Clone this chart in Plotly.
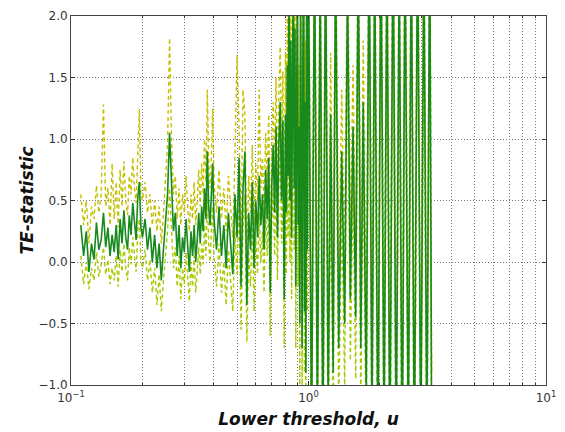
import plotly.graph_objects as go

# Lower threshold values u
x_u = [
    0.110, 0.113, 0.116, 0.119, 0.122, 0.125, 0.128, 0.131, 0.134, 0.137,
    0.140, 0.143, 0.146, 0.149, 0.152, 0.155, 0.158, 0.161, 0.164, 0.167,
    0.170, 0.173, 0.176, 0.179, 0.182, 0.185, 0.188, 0.191, 0.194, 0.197,
    0.200, 0.205, 0.210, 0.215, 0.220, 0.225, 0.230, 0.235, 0.240, 0.245,
    0.250, 0.255, 0.260, 0.265, 0.270, 0.275, 0.280, 0.285, 0.290, 0.295,
    0.300, 0.305, 0.310, 0.315, 0.320, 0.325, 0.330, 0.335, 0.340, 0.345,
    0.350, 0.355, 0.360, 0.365, 0.370, 0.375, 0.380, 0.385, 0.390, 0.395,
    0.40, 0.41, 0.42, 0.43, 0.44, 0.45, 0.46, 0.47, 0.48, 0.49,
    0.50, 0.51, 0.52, 0.53, 0.54, 0.55, 0.56, 0.57, 0.58, 0.59,
    0.60, 0.61, 0.62, 0.63, 0.64, 0.65, 0.66, 0.67, 0.68, 0.69,
    0.70, 0.71, 0.72, 0.73, 0.74, 0.75, 0.76, 0.77, 0.78, 0.79,
    0.800, 0.807, 0.814, 0.821, 0.828, 0.835, 0.842, 0.849, 0.856, 0.863,
    0.870, 0.877, 0.884, 0.891, 0.898, 0.905, 0.912, 0.919, 0.926, 0.933,
    0.940, 0.947, 0.954, 0.961, 0.968, 0.975, 0.982, 0.989,
    1.00, 1.03, 1.06, 1.09, 1.12, 1.15, 1.18, 1.21, 1.24, 1.27,
    1.30, 1.34, 1.38, 1.42, 1.46, 1.50, 1.54, 1.58, 1.62, 1.66,
    1.70, 1.75, 1.80, 1.85, 1.90, 1.96, 2.02, 2.08, 2.14, 2.20,
    2.27, 2.34, 2.41, 2.48, 2.55, 2.63, 2.71, 2.79, 2.88, 2.97,
    3.06, 3.15, 3.24, 3.30,
]

# TE-statistic estimate (solid green)
te_stat = [
    0.30, 0.05, 0.25, -0.08, 0.15, 0.02, 0.32, 0.10, 0.18, 0.40,
    0.12, 0.28, 0.05, 0.22, 0.08, 0.30, 0.02, 0.35, 0.15, 0.42,
    0.20, 0.10, 0.38, 0.22, 0.48, 0.30, 0.18, 0.52, 0.65, 0.28,
    0.20, 0.35, 0.10, 0.28, 0.00, 0.22, -0.05, 0.15, -0.15, 0.10,
    0.30, 0.55, 1.05, 0.60, 0.25, 0.40, 0.05, 0.30, -0.05, 0.20,
    0.08, 0.35, 0.12, -0.08, 0.25, 0.05, 0.30, 0.00, 0.18, 0.40,
    0.15, 0.45, 0.25, 0.60, 0.35, 0.90, 0.45, 0.30, 0.55, 0.80,
    0.35, 0.10, 0.45, 0.05, 0.30, -0.05, 0.40, 0.15, -0.10, 0.55,
    0.20, 0.85, -0.20, 0.60, 0.90, -0.35, 0.40, 0.10, 0.65, -0.05,
    0.50, 0.20, 0.70, 0.30, 0.55, 0.10, 0.75, 0.35, 0.85, -0.25,
    0.60, 0.95, 0.40, 1.10, 0.20, 0.95, 1.30, 0.50, 1.15, -0.30,
    1.20, 0.40, 1.60, 0.70, 2.30, 0.50, 1.80, 0.20, 1.40, 2.50,
    0.60, 1.90, -0.20, 1.50, 2.40, 0.30, 1.10, -0.50, 2.20, 0.80,
    -0.70, 1.70, 2.60, -0.40, 1.30, -0.90, 2.40, 0.10,
    2.50, -1.50, 2.60, -1.30, 2.40, -1.60, 2.70, -1.20, 1.20, -0.90,
    2.50, -0.70, 0.90, -0.50, 2.30, -0.30, 1.10, -0.45, 2.60, -0.70,
    1.30, -1.10, 2.80, -1.40, 2.50, -1.60, 2.70, -1.50, 2.60, -1.70,
    2.80, -1.60, 2.50, -1.80, 2.70, -1.50, 2.60, -1.70, 2.80, -1.60,
    2.60, -1.50, 2.70, -1.40,
]

# Upper confidence bound (dashed yellow)
ci_upper = [
    0.55, 0.30, 0.50, 0.15, 0.45, 0.35, 0.62, 0.40, 0.55, 1.28,
    0.45, 0.60, 0.30, 0.80, 0.35, 0.65, 0.28, 0.75, 0.45, 0.82,
    0.50, 0.38, 0.70, 0.55, 0.85, 0.60, 0.48, 0.80, 1.24, 0.55,
    0.50, 0.65, 0.40, 0.55, 0.30, 0.50, 0.25, 0.45, 0.15, 0.40,
    0.65, 0.95, 1.82, 1.00, 0.55, 0.70, 0.35, 0.60, 0.30, 0.55,
    0.40, 0.70, 0.45, 0.25, 0.55, 0.35, 0.65, 0.30, 0.50, 0.75,
    0.45, 0.80, 0.55, 1.00, 0.65, 1.40, 0.80, 0.60, 0.85, 1.25,
    0.65, 0.40, 0.75, 0.35, 0.60, 0.25, 0.70, 0.45, 0.20, 0.85,
    1.68, 1.10, 0.15, 1.40, 1.20, 0.05, 0.70, 0.40, 0.95, 0.30,
    0.80, 0.50, 1.40, 0.60, 0.85, 0.40, 1.05, 0.65, 1.20, 0.10,
    0.95, 1.30, 0.75, 1.50, 0.55, 1.35, 1.75, 0.85, 1.55, 0.10,
    1.70, 0.90, 2.10, 1.20, 2.80, 1.00, 2.30, 0.70, 1.90, 3.00,
    1.10, 2.40, 0.30, 2.00, 2.90, 0.80, 1.60, 0.00, 2.70, 1.30,
    -0.20, 2.20, 3.10, 0.10, 1.80, -0.40, 2.90, 0.60,
    3.00, -1.00, 3.10, -0.80, 2.90, -1.10, 3.20, -0.70, 1.70, -0.40,
    3.00, -0.20, 1.40, 0.00, 2.80, 0.20, 1.60, 0.05, 3.10, -0.20,
    1.80, -0.60, 3.30, -0.90, 3.00, -1.10, 3.20, -1.00, 3.10, -1.20,
    3.30, -1.10, 3.00, -1.30, 3.20, -1.00, 3.10, -1.20, 3.30, -1.10,
    3.10, -1.00, 3.20, -0.90,
]

# Lower confidence bound (dashed yellow-green)
ci_lower = [
    0.05, -0.18, 0.00, -0.22, -0.05, -0.15, 0.08, -0.12, -0.02, 0.12,
    -0.10, 0.02, -0.18, -0.05, -0.15, 0.05, -0.20, 0.10, -0.08, 0.15,
    -0.05, -0.15, 0.12, -0.02, 0.20, 0.05, -0.08, 0.25, 0.35, 0.02,
    -0.05, 0.10, -0.15, 0.02, -0.25, -0.05, -0.35, -0.10, -0.40, -0.15,
    0.05, 0.25, 0.60, 0.30, -0.05, 0.12, -0.20, 0.05, -0.30, -0.05,
    -0.18, 0.08, -0.12, -0.32, 0.00, -0.20, 0.05, -0.25, -0.08, 0.12,
    -0.10, 0.15, -0.02, 0.30, 0.05, 0.55, 0.15, 0.00, 0.25, 0.45,
    0.05, -0.20, 0.15, -0.25, 0.00, -0.35, 0.10, -0.15, -0.40, 0.25,
    -0.10, 0.50, -0.55, 0.25, 0.55, -0.65, 0.10, -0.20, 0.35, -0.40,
    0.20, -0.10, 0.40, 0.00, 0.25, -0.25, 0.45, 0.05, 0.55, -0.60,
    0.30, 0.60, 0.05, 0.75, -0.15, 0.60, 0.95, 0.15, 0.80, -0.70,
    0.70, -0.10, 1.10, 0.20, 1.80, 0.00, 1.30, -0.30, 0.90, 2.00,
    0.10, 1.40, -0.70, 1.00, 1.90, -0.20, 0.60, -1.00, 1.70, 0.30,
    -1.20, 1.20, 2.10, -0.90, 0.80, -1.40, 1.90, -0.40,
    2.00, -2.00, 2.10, -1.80, 1.90, -2.10, 2.20, -1.70, 0.70, -1.40,
    2.00, -1.20, 0.40, -1.00, 1.80, -0.80, 0.60, -0.95, 2.10, -1.20,
    0.80, -1.60, 2.30, -1.90, 2.00, -2.10, 2.20, -2.00, 2.10, -2.20,
    2.30, -2.10, 2.00, -2.30, 2.20, -2.00, 2.10, -2.20, 2.30, -2.10,
    2.10, -2.00, 2.20, -1.90,
]

x_major = [0.1, 1, 10]
x_major_text = ["10<sup>\u22121</sup>", "10<sup>0</sup>", "10<sup>1</sup>"]
x_minor = [0.2, 0.3, 0.4, 0.5, 0.6, 0.7, 0.8, 0.9, 2, 3, 4, 5, 6, 7, 8, 9]

fig = go.Figure()
fig.add_trace(go.Scatter(x=x_u, y=ci_upper, mode="lines",
                         line=dict(color="#c2c000", width=1.4, dash="4px,3px")))
fig.add_trace(go.Scatter(x=x_u, y=ci_lower, mode="lines",
                         line=dict(color="#a8c800", width=1.4, dash="4px,3px")))
fig.add_trace(go.Scatter(x=x_u, y=te_stat, mode="lines",
                         line=dict(color="#18891c", width=1.6)))

grid_color = "#7a7a7a"
fig.update_layout(
    width=565, height=432,
    margin=dict(l=71, r=19, t=16, b=47),
    paper_bgcolor="white", plot_bgcolor="white",
    showlegend=False,
    font=dict(family="DejaVu Sans", color="#333333", size=12),
    xaxis=dict(
        type="log", range=[-1, 1], automargin=False,
        tickvals=x_major, ticktext=x_major_text,
        ticks="inside", ticklen=4, tickcolor="#333333",
        showline=True, linecolor="#444444", linewidth=1, mirror="allticks",
        showgrid=True, gridcolor=grid_color, griddash="1px,2px", gridwidth=1,
        zeroline=False, ticklabelstandoff=2,
        minor=dict(tickvals=x_minor, ticks="inside", ticklen=2,
                   tickcolor="#333333", showgrid=True, gridcolor=grid_color,
                   griddash="1px,2px", gridwidth=1),
        tickfont=dict(size=12, color="#333333"),
        title=dict(text="<b><i>Lower threshold, u</i></b>",
                   font=dict(size=17, color="#111111"), standoff=8),
    ),
    yaxis=dict(
        range=[-1, 2], dtick=0.5, tick0=0, tickformat=".1f", automargin=False,
        ticks="inside", ticklen=4, tickcolor="#333333",
        showline=True, linecolor="#444444", linewidth=1, mirror="allticks",
        showgrid=True, gridcolor=grid_color, griddash="1px,2px", gridwidth=1,
        zeroline=False,
        tickfont=dict(size=12, color="#333333"),
        title=dict(text="<b><i>TE-statistic</i></b>",
                   font=dict(size=17, color="#111111"), standoff=0),
    ),
)

fig.write_html("out.html")
